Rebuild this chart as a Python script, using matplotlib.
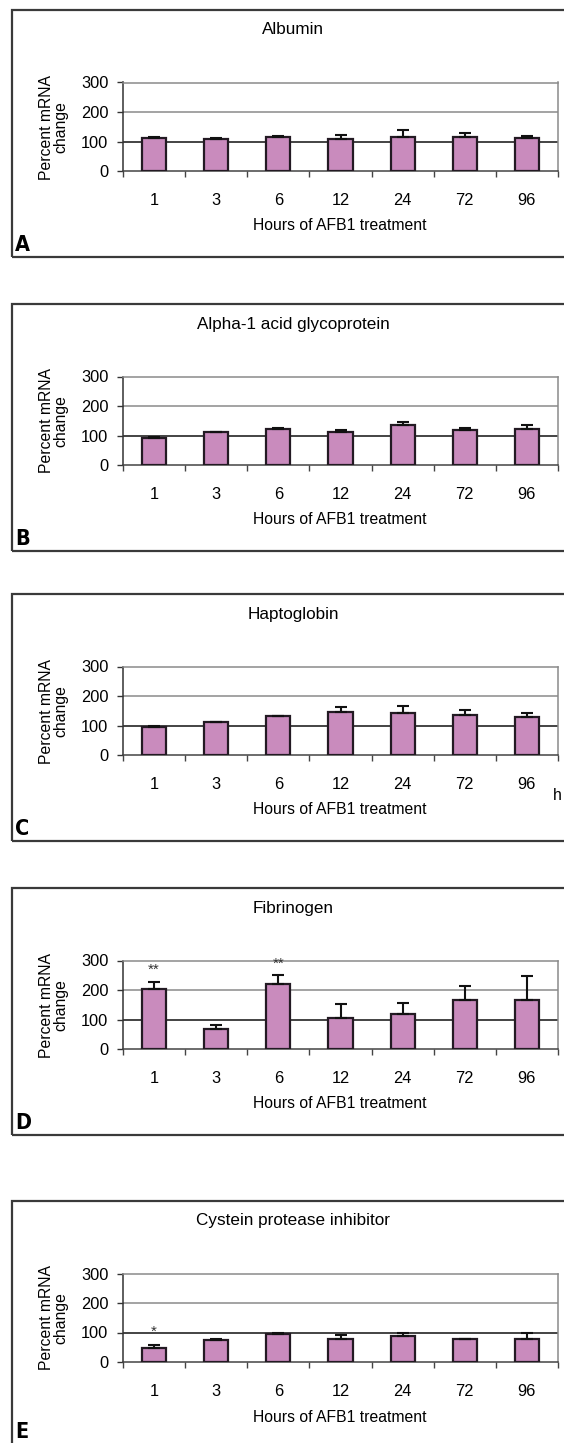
import matplotlib
matplotlib.use("Agg")
import matplotlib.pyplot as plt
from matplotlib.patches import Rectangle
from matplotlib.ticker import FixedLocator, NullFormatter
from matplotlib import font_manager
import numpy as np

# ---- data ----
hours = ["1", "3", "6", "12", "24", "72", "96"]
titles = ["Albumin", "Alpha-1 acid glycoprotein", "Haptoglobin",
          "Fibrinogen", "Cystein protease inhibitor"]
letters = ["A", "B", "C", "D", "E"]

albumin = [112, 109, 116, 107, 115, 114, 112]
albumin_err = [3, 3, 2, 15, 25, 14, 5]
agp = [91, 111, 122, 113, 136, 117, 121]
agp_err = [3, 2, 4, 7, 10, 9, 16]
haptoglobin = [95, 111, 131, 145, 143, 136, 128]
haptoglobin_err = [2, 2, 2, 17, 22, 17, 15]
fibrinogen = [204, 67, 219, 106, 118, 165, 165]
fibrinogen_err = [24, 16, 32, 46, 38, 50, 81]
cpi = [48, 74, 94, 79, 89, 78, 78]
cpi_err = [10, 5, 3, 11, 8, 1, 20]

values = [albumin, agp, haptoglobin, fibrinogen, cpi]
errors = [albumin_err, agp_err, haptoglobin_err, fibrinogen_err, cpi_err]

# significance marks: (panel index, category index, label, y value)
sig_panel = [3, 3, 4]
sig_cat = [0, 2, 0]
sig_text = ["**", "**", "*"]
sig_y = [281, 304, 116]

yticks = [0, 100, 200, 300]

# ---- layout (pixels) ----
W, H = 564, 1443
DPI = 100
box_tops = [10, 304, 594, 888, 1201]

plt.rcParams['font.family'] = ['Liberation Sans', 'DejaVu Sans']
fig = plt.figure(figsize=(W / DPI, H / DPI), dpi=DPI)

# condensed bold font for panel letters
letter_font = font_manager.FontProperties(family='DejaVu Sans', weight='bold',
                                          stretch='condensed', size=15.5)

def fx(px):
    return px / W

def fy(py):
    return 1 - py / H

BAR = "#c98bbd"
fs = 11.3
fs_tick = 11.8
fs_title = 12.3
px_per_unit = 88.5 / 300.0

for i in range(5):
    T = box_tops[i]
    # outer panel box
    fig.patches.append(Rectangle((fx(12), fy(T + 247)), fx(700) - fx(12),
                                 fy(T) - fy(T + 247), transform=fig.transFigure,
                                 fill=False, edgecolor="#3a3a3a", linewidth=1.6))
    ax_left, ax_right = 123, 558
    ax_top, ax_bot = T + 72.5, T + 161
    ax = fig.add_axes([fx(ax_left), fy(ax_bot), fx(ax_right) - fx(ax_left),
                       fy(ax_top) - fy(ax_bot)])
    x = np.arange(len(hours))
    ax.set_xlim(-0.5, len(hours) - 0.5)
    ax.set_ylim(0, 300)
    for gy, gc in zip([100, 200], ["#111111", "#8a8a8a"]):
        ax.axhline(gy, color=gc, linewidth=1.1, zorder=1)
    ax.bar(x, values[i], width=0.39, color=BAR, edgecolor="#231a23",
           linewidth=1.6, zorder=3)
    ax.errorbar(x, values[i], yerr=[np.zeros(len(x)), errors[i]], fmt='none',
                ecolor="#111111", elinewidth=1.5, capsize=4.3, capthick=1.5,
                zorder=4)
    for s in range(len(sig_panel)):
        if sig_panel[s] == i:
            # glyph sits high in its box; shift anchor down ~4 px
            ax.text(sig_cat[s], sig_y[s] - 4 / px_per_unit, sig_text[s],
                    ha='center', va='center', fontsize=11, color="#333333",
                    clip_on=False)
    ax.spines['top'].set_color("#8a8a8a")
    ax.spines['right'].set_color("#8a8a8a")
    ax.spines['left'].set_color("#333333")
    ax.spines['bottom'].set_color("#444444")
    for sp in ax.spines.values():
        sp.set_linewidth(1.1)
    ax.set_yticks(yticks)
    ax.set_yticklabels([str(v) for v in yticks], fontsize=fs_tick)
    ax.set_xticks(x)
    ax.set_xticklabels(hours, fontsize=fs_tick)
    ax.xaxis.set_minor_locator(FixedLocator(np.arange(-0.5, len(hours), 1.0)))
    ax.xaxis.set_minor_formatter(NullFormatter())
    ax.tick_params(axis='x', which='major', length=0, pad=15.5)
    ax.tick_params(axis='x', which='minor', length=4.5, width=1.0,
                   color="#444444", direction='out')
    ax.tick_params(axis='y', length=4.5, width=1.0, color="#333333", pad=6.0)
    ax.set_facecolor("white")

    fig.text(fx(293), fy(T + 20), titles[i], ha='center', va='center',
             fontsize=fs_title)
    fig.text(fx(340), fy(T + 216), "Hours of AFB1 treatment", ha='center',
             va='center', fontsize=fs)
    fig.text(fx(54), fy(T + 117), "Percent mRNA\nchange", ha='center',
             va='center', rotation=90, fontsize=fs, linespacing=0.95)
    fig.text(fx(15), fy(min(T + 241, 1438.5)), letters[i], ha='left',
             va='baseline', fontproperties=letter_font)
    if i == 2:
        fig.text(fx(553), fy(T + 201), "h", ha='left', va='center',
                 fontsize=fs)

fig.savefig("out.png", dpi=DPI, facecolor="white")
